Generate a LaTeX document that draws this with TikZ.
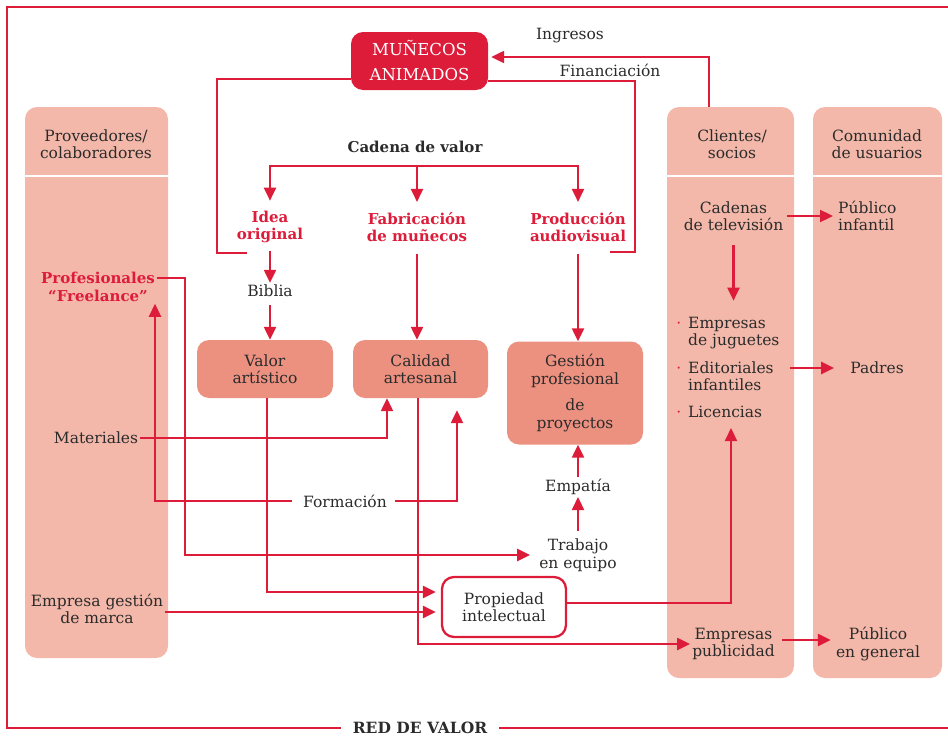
\documentclass[tikz,border=0pt]{standalone}
\usepackage{fontspec}
\setmainfont{DejaVu Serif}
\usetikzlibrary{arrows.meta,calc}
\definecolor{redc}{HTML}{DD1C3A}
\definecolor{salmon}{HTML}{F3B8A9}
\definecolor{rose}{HTML}{EC9080}
\definecolor{ink}{HTML}{2B2B2B}
\begin{document}
\begin{tikzpicture}[x=1pt,y=-1pt,
  txt/.style={text=ink, align=center, inner sep=2pt, font=\fontsize{15.5}{17.5}\selectfont},
  ltxt/.style={txt, align=left, anchor=west},
  rtitle/.style={txt, text=redc, font=\bfseries\fontsize{15}{17.5}\selectfont},
  colbox/.style={fill=salmon, rounded corners=12pt, inner sep=0pt},
  stagebox/.style={txt, fill=rose, rounded corners=12pt},
  ln/.style={draw=redc, line width=2.3pt},
  arr/.style={ln, -{Triangle[length=13pt,width=12pt]}},
  sepline/.style={draw=white, line width=2.5pt}
]
\useasboundingbox (0,0) rectangle (948,736);

% three columns of actors
\node[colbox, minimum width=143pt, minimum height=551pt] (col1) at (96.5,382.5) {};
\node[colbox, minimum width=127pt, minimum height=571pt] (col2) at (730.5,392.5) {};
\node[colbox, minimum width=129pt, minimum height=571pt] (col3) at (877.5,392.5) {};
\foreach \c in {col1,col2,col3}
  \draw[sepline] ([yshift=-69pt]\c.north west) -- ([yshift=-69pt]\c.north east);

\node[txt] (hprov) at (96,144) {Proveedores/\\colaboradores};
\node[txt] (hcli) at (732,144) {Clientes/\\socios};
\node[txt] (hcom) at (877,144) {Comunidad\\de usuarios};

% outer frame
\node[txt, font=\bfseries\fontsize{15.5}{17}\selectfont, inner xsep=12pt] (redlabel) at (420,728) {RED DE VALOR};
\draw[ln, line width=2pt] (948,7) -- (7,7) -- (7,728) -- (redlabel.west);
\draw[ln, line width=2pt] (redlabel.east) -- (948,728);

% company
\node[txt, text=white, fill=redc, rounded corners=12pt, minimum width=137pt, minimum height=58pt,
      font=\fontsize{16.5}{25}\selectfont] (muneco) at (419.5,61) {MUÑECOS\\ANIMADOS};
\node[txt] (ingresos) at (570,36) {Ingresos};
\node[txt] (financ) at (610,70) {Financiación};

% value chain
\node[txt, font=\bfseries\fontsize{15}{17.5}\selectfont] (cadena) at (415,147) {Cadena de valor};
\node[rtitle] (idea) at (270,227) {Idea\\original};
\node[rtitle] (fab) at (417,227) {Fabricación\\de muñecos};
\node[rtitle] (prod) at (578,227) {Producción\\audiovisual};
\node[txt] (biblia) at (270,291) {Biblia};
\node[stagebox, minimum width=136pt, minimum height=58pt] (valor) at (265,369) {Valor\\artístico};
\node[stagebox, minimum width=135pt, minimum height=58pt] (calidad) at (420.5,369) {Calidad\\artesanal};
\node[stagebox, minimum width=136pt, minimum height=103pt, font=\fontsize{15.5}{18.5}\selectfont] (gestion) at (575,393) {Gestión\\profesional\\[7pt]de\\proyectos};
\node[txt] (empatia) at (578,487) {Empatía};
\node[txt] (trabajo) at (578,555) {Trabajo\\en equipo};
\node[txt, draw=redc, line width=2.3pt, fill=white, rounded corners=12pt, minimum width=124pt, minimum height=60pt] (prop) at (504,607) {Propiedad\\intelectual};
\node[txt] (formacion) at (345,501) {Formación};

% suppliers
\node[rtitle] (freelance) at (98,287) {Profesionales\\“Freelance”};
\node[txt] (materiales) at (96,438) {Materiales};
\node[txt] (gestmarca) at (97,609) {Empresa gestión\\de marca};

% clients
\node[txt] (cadenas) at (733.5,216) {Cadenas\\de televisión};
\node[ltxt] (emp1) at (686,333) {\llap{\textcolor{redc}{·}\hspace{7pt}}Empresas\\de juguetes};
\node[ltxt] (emp2) at (686,376) {\llap{\textcolor{redc}{·}\hspace{7pt}}Editoriales\\infantiles};
\node[ltxt] (emp3) at (686,412) {\llap{\textcolor{redc}{·}\hspace{7pt}}Licencias};
\node[txt] (publicidad) at (733.5,644) {Empresas\\publicidad};

% users
\node[ltxt] (pinf) at (836,216) {Público\\infantil};
\node[txt] (padres) at (877,368) {Padres};
\node[txt] (pgen) at (878,644) {Público\\en general};

% money flows
\draw[arr, shorten >=3pt] ([xshift=-21.5pt]col2.north) |- ([yshift=4pt]muneco.east);
\draw[ln] ([yshift=-20pt]muneco.east) -- ++(147,0) |- ([xshift=-18pt,yshift=-25pt]prod.east);
\draw[ln] ([yshift=-18pt]muneco.west) -- ++(-134,0) |- ([xshift=-23pt,yshift=-8pt]idea.south);

% value chain arrows
\coordinate (br) at (417,166);
\draw[arr, shorten >=8pt] (br) -| (idea.north);
\draw[arr, shorten >=8pt] (br) -| (prod.north);
\draw[arr, shorten >=8pt] (br) -- (fab.north);
\draw[arr, shorten <=6pt] (idea.south) -- (idea.south |- biblia.north);
\draw[arr, shorten <=6pt] (biblia.south) -- (biblia.south |- valor.north);
\draw[arr, shorten <=10pt] (fab.south) -- (fab.south |- calidad.north);
\draw[arr, shorten <=10pt] (prod.south) -- (prod.south |- gestion.north);

% supplier flows
\draw[arr, shorten >=7pt] ([yshift=9pt]freelance.east) -| ([xshift=87pt]freelance.south) |- (trabajo.west);
\draw[arr, shorten <=9pt] (formacion.west) -| ([xshift=57pt]freelance.south);
\draw[arr, shorten <=6pt] (formacion.east) -| ([xshift=36.5pt,yshift=-12pt]calidad.south);
\draw[arr] (materiales.east) -| ([xshift=-33.5pt]calidad.south);
\draw[arr, shorten >=5pt] ([xshift=2pt]valor.south) |- ([yshift=15pt]prop.west);
\draw[arr, shorten >=5pt] ([yshift=-3pt]gestmarca.east) -- ([yshift=-3pt]gestmarca.east -| prop.west);
\draw[arr] ([xshift=-2.5pt]calidad.south) |- (publicidad.west);

% team and management
\draw[arr] ([yshift=6pt]trabajo.north) -- (empatia.south);
\draw[arr] (empatia.north) -- (empatia.north |- gestion.south);

% client flows
\coordinate (lictip) at ($(cadenas.south |- emp3.south)+(-2.5,8)$);
\draw[arr] ([yshift=4pt]prop.east) -| (lictip);
\draw[arr, shorten <=2pt, shorten >=3pt] (cadenas.east) -- (cadenas.east -| pinf.west);
\draw[arr, shorten <=12pt, shorten >=14pt] (cadenas.south) -- (cadenas.south |- emp1.north);
\draw[arr, shorten <=14pt, shorten >=14pt] (emp2.east |- padres.west) -- (padres.west);
\draw[arr, shorten <=5pt, shorten >=3pt] ([yshift=4pt]publicidad.east) -- ([yshift=4pt]pgen.west);
\end{tikzpicture}
\end{document}
